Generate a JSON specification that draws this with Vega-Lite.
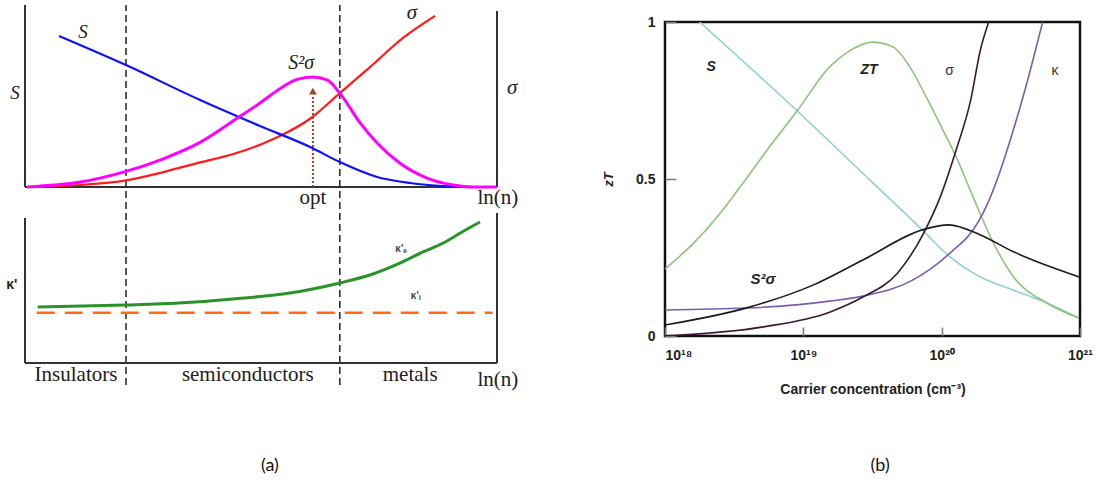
{
"$schema":"https://vega.github.io/schema/vega-lite/v6.json",
"background":"white",
"padding":{"left":6,"top":2,"right":0,"bottom":0},
"bounds":"flush",
"spacing":168,
"config":{"view":{"stroke":null}},
"datasets":{
"topA":[
{"series":"S","x":0.072,"y":0.830},{"series":"S","x":0.214,"y":0.670},{"series":"S","x":0.371,"y":0.478},{"series":"S","x":0.498,"y":0.335},{"series":"S","x":0.604,"y":0.220},{"series":"S","x":0.667,"y":0.137},{"series":"S","x":0.746,"y":0.055},{"series":"S","x":0.816,"y":0.022},{"series":"S","x":0.886,"y":0.005},{"series":"S","x":0.953,"y":0.0},
{"series":"sig","x":0.004,"y":0.0},{"series":"sig","x":0.117,"y":0.011},{"series":"sig","x":0.214,"y":0.036},{"series":"sig","x":0.293,"y":0.082},{"series":"sig","x":0.371,"y":0.135},{"series":"sig","x":0.440,"y":0.180},{"series":"sig","x":0.498,"y":0.232},{"series":"sig","x":0.540,"y":0.280},{"series":"sig","x":0.604,"y":0.375},{"series":"sig","x":0.667,"y":0.516},{"series":"sig","x":0.731,"y":0.659},{"series":"sig","x":0.801,"y":0.819},{"series":"sig","x":0.869,"y":0.940},
{"series":"S2s","x":0.004,"y":0.0},{"series":"S2s","x":0.117,"y":0.027},{"series":"S2s","x":0.214,"y":0.086},{"series":"S2s","x":0.293,"y":0.155},{"series":"S2s","x":0.371,"y":0.245},{"series":"S2s","x":0.451,"y":0.380},{"series":"S2s","x":0.498,"y":0.462},{"series":"S2s","x":0.540,"y":0.540},{"series":"S2s","x":0.575,"y":0.590},{"series":"S2s","x":0.610,"y":0.604},{"series":"S2s","x":0.640,"y":0.588},{"series":"S2s","x":0.667,"y":0.516},{"series":"S2s","x":0.710,"y":0.352},{"series":"S2s","x":0.746,"y":0.242},{"series":"S2s","x":0.794,"y":0.132},{"series":"S2s","x":0.852,"y":0.049},{"series":"S2s","x":0.907,"y":0.011},{"series":"S2s","x":0.949,"y":0.0},{"series":"S2s","x":1.0,"y":0.0}
],
"framesTop":[{"x":0,"x2":0,"y":0,"y2":1},{"x":1,"x2":1,"y":0,"y2":0.967},{"x":0,"x2":1,"y":0,"y2":0}],
"regions":[{"x":0.214,"x2":0.214,"y":-1.088,"y2":1},{"x":0.667,"x2":0.667,"y":-1.088,"y2":1}],
"arrow":[{"x":0.61,"x2":0.61,"y":0,"y2":0.5}],
"arrowHead":[{"x":0.61,"y":0.527}],
"framesBot":[{"x":0,"x2":0,"y":0,"y2":0.89},{"x":1,"x2":1,"y":0,"y2":0.92},{"x":0,"x2":1,"y":0,"y2":0}],
"botA":[
{"series":"ke","x":0.027,"y":0.344},{"series":"ke","x":0.214,"y":0.356},{"series":"ke","x":0.326,"y":0.368},{"series":"ke","x":0.441,"y":0.393},{"series":"ke","x":0.561,"y":0.429},{"series":"ke","x":0.667,"y":0.491},{"series":"ke","x":0.737,"y":0.546},{"series":"ke","x":0.794,"y":0.613},{"series":"ke","x":0.843,"y":0.681},{"series":"ke","x":0.886,"y":0.736},{"series":"ke","x":0.926,"y":0.804},{"series":"ke","x":0.964,"y":0.865},
{"series":"kl","x":0.025,"y":0.309},{"series":"kl","x":0.991,"y":0.309}
],
"b":[
{"series":"S","n":1.778e18,"v":1.0},{"series":"S","n":9.12e18,"v":0.715},{"series":"S","n":3.02e19,"v":0.497},{"series":"S","n":7.244e19,"v":0.338},{"series":"S","n":1.148e20,"v":0.252},{"series":"S","n":1.905e20,"v":0.188},{"series":"S","n":3.311e20,"v":0.146},{"series":"S","n":5.754e20,"v":0.105},{"series":"S","n":9.772e20,"v":0.058},
{"series":"ZT","n":1e18,"v":0.213},{"series":"ZT","n":1.698e18,"v":0.306},{"series":"ZT","n":2.512e18,"v":0.392},{"series":"ZT","n":3.631e18,"v":0.485},{"series":"ZT","n":5.754e18,"v":0.605},{"series":"ZT","n":9.12e18,"v":0.72},{"series":"ZT","n":1.549e19,"v":0.857},{"series":"ZT","n":2.089e19,"v":0.904},{"series":"ZT","n":3.162e19,"v":0.936},{"series":"ZT","n":4.467e19,"v":0.92},{"series":"ZT","n":5.888e19,"v":0.857},{"series":"ZT","n":7.762e19,"v":0.76},{"series":"ZT","n":1.023e20,"v":0.655},{"series":"ZT","n":1.259e20,"v":0.575},{"series":"ZT","n":1.698e20,"v":0.44},{"series":"ZT","n":2.344e20,"v":0.3},{"series":"ZT","n":3.311e20,"v":0.188},{"series":"ZT","n":5.754e20,"v":0.105},{"series":"ZT","n":9.772e20,"v":0.057},
{"series":"sig","n":1e18,"v":0.0},{"series":"sig","n":5.129e18,"v":0.029},{"series":"sig","n":1.549e19,"v":0.076},{"series":"sig","n":2.692e19,"v":0.124},{"series":"sig","n":4.786e19,"v":0.2},{"series":"sig","n":7.413e19,"v":0.328},{"series":"sig","n":9.772e19,"v":0.443},{"series":"sig","n":1.259e20,"v":0.586},{"series":"sig","n":1.622e20,"v":0.752},{"series":"sig","n":1.905e20,"v":0.911},{"series":"sig","n":2.188e20,"v":1.0},
{"series":"kap","n":1e18,"v":0.083},{"series":"kap","n":3.89e18,"v":0.089},{"series":"kap","n":8.913e18,"v":0.099},{"series":"kap","n":1.549e19,"v":0.111},{"series":"kap","n":2.692e19,"v":0.127},{"series":"kap","n":6.166e19,"v":0.178},{"series":"kap","n":1.148e20,"v":0.264},{"series":"kap","n":1.82e20,"v":0.36},{"series":"kap","n":2.138e20,"v":0.42},{"series":"kap","n":2.512e20,"v":0.497},{"series":"kap","n":3.162e20,"v":0.63},{"series":"kap","n":3.981e20,"v":0.78},{"series":"kap","n":5.37e20,"v":1.0},
{"series":"S2s","n":1e18,"v":0.035},{"series":"S2s","n":4.074e18,"v":0.092},{"series":"S2s","n":1.175e19,"v":0.162},{"series":"S2s","n":2.692e19,"v":0.242},{"series":"S2s","n":7.244e19,"v":0.338},{"series":"S2s","n":1.122e20,"v":0.354},{"series":"S2s","n":1.905e20,"v":0.322},{"series":"S2s","n":3.311e20,"v":0.268},{"series":"S2s","n":9.9e20,"v":0.188}
]
},
"hconcat":[
{"width":472,"height":358,
"resolve":{"scale":{"y":"independent"}},
"layer":[
{"encoding":{"x":{"field":"x","type":"quantitative","scale":{"domain":[0,1],"nice":false},"axis":null},"y":{"field":"y","type":"quantitative","scale":{"domain":[-0.967,1],"nice":false,"zero":false},"axis":null}},
"layer":[
{"data":{"name":"framesTop"},"mark":{"type":"rule","color":"#333","strokeWidth":2},"encoding":{"x2":{"field":"x2"},"y2":{"field":"y2"}}},
{"data":{"name":"regions"},"mark":{"type":"rule","color":"#222","strokeWidth":1.5,"strokeDash":[7,4]},"encoding":{"x2":{"field":"x2"},"y2":{"field":"y2"}}},
{"data":{"name":"topA"},"transform":[{"filter":"datum.series==='sig'"}],"mark":{"type":"line","color":"#ff1a1a","strokeWidth":2.2,"interpolate":"monotone"},"encoding":{}},
{"data":{"name":"topA"},"transform":[{"filter":"datum.series==='S'"}],"mark":{"type":"line","color":"#1010ff","strokeWidth":2.2,"interpolate":"monotone"},"encoding":{}},
{"data":{"name":"topA"},"transform":[{"filter":"datum.series==='S2s'"}],"mark":{"type":"line","color":"#ff00ff","strokeWidth":3,"interpolate":"monotone"},"encoding":{}},
{"data":{"name":"arrow"},"mark":{"type":"rule","color":"#a0461e","strokeWidth":2,"strokeDash":[2,2]},"encoding":{"x2":{"field":"x2"},"y2":{"field":"y2"}}},
{"data":{"name":"arrowHead"},"mark":{"type":"point","shape":"triangle-up","filled":true,"color":"#a0461e","size":60,"opacity":1},"encoding":{}},
{"data":{"values":[{"x":0.123,"y":0.852,"t":"S"},{"x":-0.021,"y":0.516,"t":"S"}]},"mark":{"type":"text","font":"Liberation Serif","fontStyle":"italic","fontSize":19,"color":"#222"},"encoding":{"text":{"field":"t"}}},
{"data":{"values":[{"x":0.820,"y":0.956,"t":"σ"},{"x":1.032,"y":0.544,"t":"σ"}]},"mark":{"type":"text","font":"Liberation Serif","fontStyle":"italic","fontSize":21,"color":"#222"},"encoding":{"text":{"field":"t"}}},
{"data":{"values":[{"x":0.585,"y":0.681,"t":"S²σ"}]},"mark":{"type":"text","font":"Liberation Serif","fontStyle":"italic","fontSize":20,"color":"#222"},"encoding":{"text":{"field":"t"}}},
{"data":{"values":[{"x":0.610,"y":-0.06,"t":"opt"},{"x":1.002,"y":-0.06,"t":"ln(n)"}]},"mark":{"type":"text","font":"Liberation Serif","fontSize":21,"color":"#222"},"encoding":{"text":{"field":"t"}}}
]},
{"encoding":{"x":{"field":"x","type":"quantitative","scale":{"domain":[0,1],"nice":false},"axis":null},"y":{"field":"y","type":"quantitative","scale":{"domain":[0,2.196],"nice":false,"zero":false},"axis":null}},
"layer":[
{"data":{"name":"framesBot"},"mark":{"type":"rule","color":"#333","strokeWidth":2},"encoding":{"x2":{"field":"x2"},"y2":{"field":"y2"}}},
{"data":{"name":"botA"},"transform":[{"filter":"datum.series==='kl'"}],"mark":{"type":"line","color":"#ff6a13","strokeWidth":2.5,"strokeDash":[18,10]},"encoding":{}},
{"data":{"name":"botA"},"transform":[{"filter":"datum.series==='ke'"}],"mark":{"type":"line","color":"#2b922b","strokeWidth":3,"interpolate":"monotone"},"encoding":{}},
{"data":{"values":[{"x":-0.028,"y":0.479,"t":"κ'"}]},"mark":{"type":"text","font":"Liberation Sans","fontWeight":"bold","fontSize":14,"color":"#222"},"encoding":{"text":{"field":"t"}}},
{"data":{"values":[{"x":0.797,"y":0.699,"t":"κ'ₑ"},{"x":0.828,"y":0.411,"t":"κ'ₗ"}]},"mark":{"type":"text","font":"Liberation Sans","fontWeight":"bold","fontSize":10,"color":"#444"},"encoding":{"text":{"field":"t"}}},
{"data":{"values":[{"x":0.108,"y":-0.074,"t":"Insulators"},{"x":0.472,"y":-0.074,"t":"semiconductors"},{"x":0.816,"y":-0.074,"t":"metals"},{"x":1.002,"y":-0.104,"t":"ln(n)"}]},"mark":{"type":"text","font":"Liberation Serif","fontSize":21,"color":"#222"},"encoding":{"text":{"field":"t"}}},
{"data":{"values":[{"x":0.519,"y":-0.632,"t":"(a)"}]},"mark":{"type":"text","font":"Lato","fontSize":18,"color":"#111"},"encoding":{"text":{"field":"t"}}}
]}
]},
{"bounds":"flush","spacing":16,"vconcat":[
{"width":415,"height":1,"data":{"values":[]},"mark":"point","encoding":{}},
{"width":415,"height":314,
"view":{"stroke":"#111","strokeWidth":2.5},
"encoding":{
"x":{"field":"n","type":"quantitative","scale":{"type":"log","domain":[1e18,1e21]},
"axis":{"values":[1e18,1e19,1e20,1e21],"labelExpr":"'10' + ['¹⁸','¹⁹','²⁰','²¹'][round(log(datum.value)/LN10) - 18]","labelFont":"Liberation Sans","labelFontWeight":"bold","labelFontSize":14,"labelColor":"#222","labelAlign":{"condition":{"test":"datum.value < 2e18","value":"left"},"value":"center"},"labelFlush":false,"labelPadding":21,"domain":false,"grid":false,"tickSize":-9,"tickColor":"#777","tickWidth":1.5,"title":"Carrier concentration (cm⁻³)","titleFont":"Liberation Sans","titleFontWeight":"bold","titleFontSize":14,"titlePadding":20,"titleColor":"#222"}},
"y":{"field":"v","type":"quantitative","scale":{"domain":[0,1]},
"axis":{"values":[0,0.5,1],"format":"~g","labelFont":"Liberation Sans","labelFontWeight":"bold","labelFontSize":14,"labelColor":"#222","labelFlush":false,"labelPadding":21,"tickSize":-11,"tickColor":"#777","tickWidth":1.5,"domain":false,"grid":false,"title":"zT","titleFont":"Liberation Sans","titleFontWeight":"bold","titleFontStyle":"italic","titleFontSize":13,"titlePadding":20,"titleColor":"#222"}}
},
"layer":[
{"data":{"name":"b"},"transform":[{"filter":"datum.series==='S'"}],"mark":{"type":"line","color":"#8fd0d8","strokeWidth":1.6,"interpolate":"monotone","clip":true},"encoding":{}},
{"data":{"name":"b"},"transform":[{"filter":"datum.series==='ZT'"}],"mark":{"type":"line","color":"#8cc47a","strokeWidth":1.6,"interpolate":"monotone","clip":true},"encoding":{}},
{"data":{"name":"b"},"transform":[{"filter":"datum.series==='kap'"}],"mark":{"type":"line","color":"#7a5cae","strokeWidth":1.6,"interpolate":"monotone","clip":true},"encoding":{}},
{"data":{"name":"b"},"transform":[{"filter":"datum.series==='sig'"}],"mark":{"type":"line","color":"#3c1830","strokeWidth":1.6,"interpolate":"monotone","clip":true},"encoding":{}},
{"data":{"name":"b"},"transform":[{"filter":"datum.series==='S2s'"}],"mark":{"type":"line","color":"#1a1a1a","strokeWidth":1.6,"interpolate":"monotone","clip":true},"encoding":{}},
{"data":{"values":[{"n":2.153e18,"v":0.857,"t":"S"},{"n":2.985e19,"v":0.847,"t":"ZT"}]},"mark":{"type":"text","font":"Liberation Sans","fontWeight":"bold","fontStyle":"italic","fontSize":14,"color":"#222"},"encoding":{"text":{"field":"t"}}},
{"data":{"values":[{"n":1.14e20,"v":0.844,"t":"σ"},{"n":6.607e20,"v":0.844,"t":"κ"}]},"mark":{"type":"text","font":"Liberation Sans","fontSize":14,"color":"#333"},"encoding":{"text":{"field":"t"}}},
{"data":{"values":[{"n":5.117e18,"v":0.182,"t":"S²σ"}]},"mark":{"type":"text","font":"Liberation Sans","fontWeight":"bold","fontStyle":"italic","fontSize":15,"color":"#222"},"encoding":{"text":{"field":"t"}}},
{"data":{"values":[{"n":3.589e19,"v":-0.414,"t":"(b)"}]},"mark":{"type":"text","font":"Lato","fontSize":18,"color":"#111"},"encoding":{"text":{"field":"t"}}}
]}
]}
]
}
